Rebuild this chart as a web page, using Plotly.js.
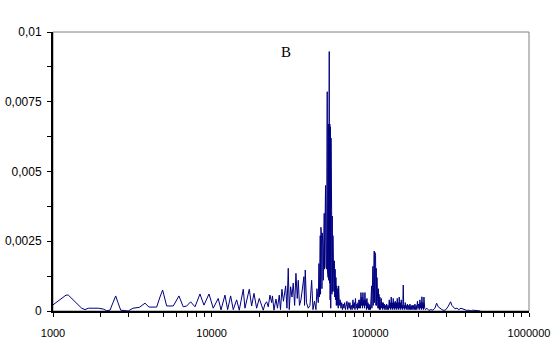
<!DOCTYPE html>
<html>
<head>
<meta charset="utf-8">
<script src="https://cdn.plot.ly/plotly-3.0.1.min.js"></script>
<style>html,body{margin:0;padding:0;background:#fff;}#chart{width:559px;height:346px;}</style>
</head>
<body>
<div id="chart"></div>
<script>
// Frequency (x, log scale) and amplitude (y)
const freq = [
  1000,1080,1140,1208,1249,1312,1410,1516,1591,1669,
  1929,2075,2180,2287,2388,2484,2568,2671,2980,3190,
  3500,3800,4027,4500,4723,4910,5205,5730,6220,6620,
  6960,7370,7850,8440,8940,9620,10230,11000,11450,12130,
  12610,13170,13680,14370,14930,15820,16210,17260,17860,18480,
  19210,19950,21140,21670,22220,22730,23300,23880,24160,24700,
  25420,25980,26670,27140,27730,28340,29260,29820,30390,30830,
  31460,32060,32670,33340,33980,34630,35140,35760,36540,37450,
  38160,38500,38890,39580,40620,41640,42670,43490,44450,45420,
  46080,46960,47440,47790,48340,48550,48830,49050,49260,49550,
  49770,50050,50270,50490,50780,51000,51220,51450,51750,51980,
  52200,52510,52740,52970,53270,53500,53740,53970,54210,54440,
  54680,54920,55080,55320,55560,55800,56040,56290,56530,56780,
  57030,57290,57540,57790,58130,58370,58710,58960,59310,59660,
  60010,60360,60700,61060,61410,61860,62310,62770,63120,63870,
  64570,65270,65990,66710,67440,68170,68920,69680,70450,71220,
  72000,72780,73580,74390,75200,76020,76860,77700,78550,79400,
  80000,80560,81450,82340,82940,83540,84150,84760,85380,86000,
  86630,87270,87900,88540,89190,89840,90490,91150,91810,92480,
  93150,93830,94510,95200,95900,96590,97300,98000,98710,99430,
  100200,100900,101300,101900,102300,102800,103300,103800,104300,104800,
  105400,105800,106300,106900,107400,107900,108500,108900,109400,110100,
  110500,111200,111700,112300,112800,113400,114100,114900,115500,116300,
  117200,118000,118900,119700,120600,121500,122400,123400,124500,125600,
  126700,127900,129100,130300,131600,132500,133500,134400,135400,136400,
  137400,138400,139400,140400,141500,142500,143500,144500,145600,146700,
  147800,148800,149900,151000,152100,153200,154300,155400,156600,157700,
  158900,160000,161200,162400,163600,164800,166000,167200,168400,169800,
  171300,172800,174300,175900,177600,179300,181000,182600,184200,185800,
  187400,189200,191000,192800,194600,196300,198100,199800,201500,203400,
  205400,206900,208400,209900,211400,212900,214500,216100,217700,220100,
  222500,227400,234000,240900,248000,255300,261700,267900,274500,282600,
  290900,299500,308300,315100,320600,326800,333000,341400,351400,361700,
  372400,383300,394600,406200,418100,430500,443100,456200,469600,483400,
  494000
];
const amp = [
  0.00022,0.00037,0.00048,0.00057,0.00057,0.00045,0.00024,0.0001,0.00005,0.0001,
  0.0001,0.00007,0.00001,0.00003,0.0003,0.00054,0.0003,0.00003,0.0,0.0001,
  0.00013,0.00028,0.00014,0.00014,0.0005,0.00075,0.00018,0.00018,0.00054,0.00015,
  0.00018,0.00033,0.00015,0.00061,0.00021,0.00061,0.0001,0.00045,0.00004,0.00057,
  0.00005,0.00054,0.00005,0.0004,0.00003,0.00078,0.0001,0.00078,0.00018,0.00063,
  0.0001,0.00045,0.00003,0.00025,0.00033,0.00015,0.00057,0.0003,0.00054,0.00003,
  0.00043,0.0001,0.00057,0.00005,0.00078,0.00035,0.0009,0.0001,0.00153,0.00005,
  0.00087,0.0005,0.001,0.0002,0.00135,0.00045,0.0011,0.0002,0.0004,0.00095,
  0.00123,0.0002,0.00147,0.0003,0.0001,0.0002,0.0011,0.00005,0.00035,0.00005,
  0.0008,0.0003,0.0017,0.0005,0.0027,0.0006,0.003,0.0007,0.0026,0.0008,
  0.0028,0.0009,0.0024,0.0011,0.0031,0.0013,0.0035,0.0015,0.0042,0.0017,
  0.0045,0.0016,0.0044,0.0015,0.0047,0.00786,0.0014,0.0066,0.0012,0.0067,
  0.0011,0.0066,0.0093,0.001,0.0067,0.0004,0.0066,0.0001,0.0062,0.0002,
  0.0036,0.0006,0.0034,0.0007,0.0027,0.0008,0.002,0.0007,0.0018,0.0005,
  0.0015,0.0004,0.0012,0.0002,0.0009,0.0002,0.0008,0.0001,0.0009,0.0002,
  0.0004,0.0001,0.0003,0.00005,0.00025,0.0001,0.0003,0.00005,0.0002,0.00035,
  0.00005,0.0003,0.0001,0.0003,0.00005,0.0002,0.00005,0.0004,0.0001,0.0003,
  0.00005,0.00045,0.0001,0.00025,0.00005,0.0003,0.0001,0.0004,0.0001,0.0004,
  0.0001,0.00066,0.0002,0.0005,0.0001,0.00066,0.0002,0.0004,0.0001,0.00066,
  0.0002,0.0004,0.00005,0.00045,0.0001,0.0003,0.00005,0.00025,0.00005,0.0002,
  0.00005,0.00068,0.0001,0.0009,0.0001,0.00111,0.0002,0.0016,0.0002,0.0019,
  0.0003,0.00215,0.0003,0.0021,0.0004,0.002,0.0002,0.00153,0.0002,0.0012,
  0.0001,0.0011,0.0001,0.0008,0.0001,0.0006,0.00005,0.0005,0.00005,0.0003,
  0.00045,0.0001,0.0003,0.00005,0.0003,0.0001,0.00025,0.00005,0.0002,0.00005,
  0.00025,0.00005,0.0002,0.00005,0.0004,0.0001,0.0003,0.00005,0.0005,0.0001,
  0.0003,0.00005,0.00045,0.0001,0.0003,0.00005,0.00035,0.0001,0.0003,0.00005,
  0.00045,0.0001,0.0003,0.00005,0.0005,0.0001,0.0003,0.00005,0.0004,0.0001,
  0.0002,0.00005,0.00093,0.0001,0.0002,0.00005,0.0003,0.0001,0.0002,0.00005,
  0.00025,0.00005,0.0002,0.00005,0.00025,0.00005,0.0002,0.00005,0.0002,0.00005,
  0.0002,0.00005,0.00025,0.00005,0.0002,0.00005,0.00035,0.0001,0.00025,0.00005,
  0.0004,0.0001,0.0003,0.00005,0.00051,0.0001,0.0003,0.00005,0.0005,0.0001,
  0.00005,0.0001,0.00002,0.00005,0.00003,0.0001,0.00028,0.00015,0.0001,0.00005,
  0.00002,0.00005,0.00015,0.00025,0.00033,0.0002,0.00015,0.00008,0.0001,0.00005,
  0.0001,0.00008,0.00005,0.00002,0.00003,0.0,0.00003,0.00002,0.00002,0.00002,
  0.0
];
const xTickVals = [1000, 10000, 100000, 1000000];
const xTickText = ["1000", "10000", "100000", "1000000"];
const yTickVals = [0, 0.0025, 0.005, 0.0075, 0.01];
const yTickText = ["0", "0,0025", "0,005", "0,0075", "0,01"];
const panelLabel = "B";

const trace = {
  x: freq, y: amp, type: 'scatter', mode: 'lines',
  line: {color: '#000080', width: 1}, hoverinfo: 'skip'
};

const layout = {
  width: 559, height: 346,
  margin: {l: 53, r: 30, t: 32, b: 35, pad: 0},
  paper_bgcolor: '#ffffff', plot_bgcolor: '#ffffff',
  showlegend: false,
  font: {family: 'Liberation Sans, Arial, sans-serif', color: '#000000', size: 11},
  xaxis: {
    type: 'log', range: [3, 6],
    tickmode: 'array', tickvals: xTickVals, ticktext: xTickText,
    ticks: 'outside', ticklen: 4, tickwidth: 1, tickcolor: '#000',
    minor: {ticks: 'outside', ticklen: 4, tickwidth: 1, tickcolor: '#000', dtick: 'D1', showgrid: false},
    showline: true, linecolor: '#000', linewidth: 2,
    showgrid: false, zeroline: false,
    tickfont: {size: 11}, ticklabelstandoff: 7
  },
  yaxis: {
    range: [0, 0.01],
    tickmode: 'array', tickvals: yTickVals, ticktext: yTickText,
    ticks: 'outside', ticklen: 4, tickwidth: 1, tickcolor: '#000',
    minor: {ticks: 'outside', ticklen: 4, tickwidth: 1, tickcolor: '#000', dtick: 0.00125, showgrid: false},
    showline: true, linecolor: '#000', linewidth: 2,
    showgrid: false, zeroline: false,
    tickfont: {size: 12}, ticklabelstandoff: 3
  },
  shapes: [{
    type: 'rect', xref: 'paper', yref: 'paper', x0: 0, y0: 0, x1: 1, y1: 1,
    line: {color: '#808080', width: 1}, layer: 'below'
  }],
  annotations: [{
    text: panelLabel, xref: 'paper', yref: 'paper', x: 0.49, y: 0.928,
    showarrow: false, xanchor: 'center', yanchor: 'middle',
    font: {family: 'Liberation Serif, Times New Roman, serif', size: 15, color: '#000'}
  }]
};

Plotly.newPlot('chart', [trace], layout, {staticPlot: true, displayModeBar: false});
</script>
</body>
</html>
